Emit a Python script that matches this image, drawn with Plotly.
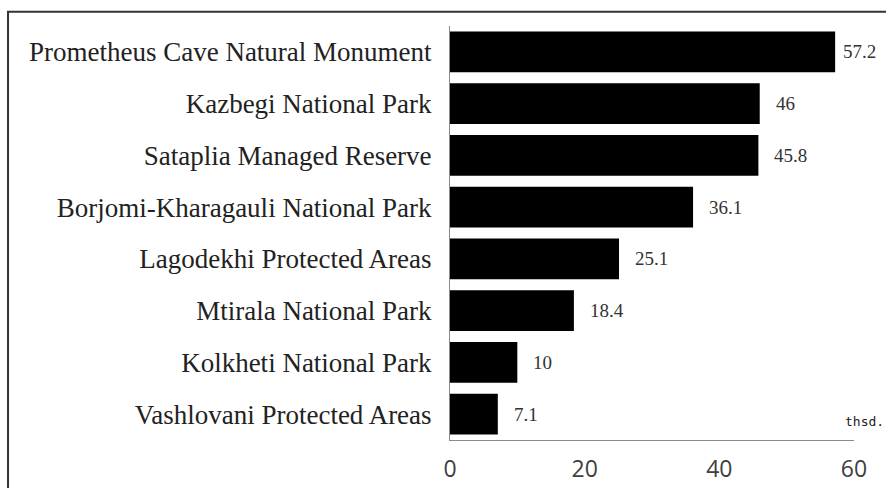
import plotly.graph_objects as go

# Visitors to protected areas, thousands
areas = [
    "Prometheus Cave Natural Monument",
    "Kazbegi National Park",
    "Sataplia Managed Reserve",
    "Borjomi-Kharagauli National Park",
    "Lagodekhi Protected Areas",
    "Mtirala National Park",
    "Kolkheti National Park",
    "Vashlovani Protected Areas",
]
visitors = [57.2, 46, 45.8, 36.1, 25.1, 18.4, 10, 7.1]
value_labels = ["57.2", "46", "45.8", "36.1", "25.1", "18.4", "10", "7.1"]
x_ticks = [0, 20, 40, 60]
unit_label = "thsd."

fig = go.Figure(
    go.Bar(
        x=visitors,
        y=areas,
        orientation="h",
        marker=dict(color="#000000", line=dict(width=0)),
        hoverinfo="x+y",
    )
)

# value labels just past the end of each bar (tighter where space runs out)
for area, v, txt in zip(areas, visitors, value_labels):
    fig.add_annotation(
        x=v, y=area, text=txt, showarrow=False,
        xanchor="left", yanchor="middle", xshift=6 if v > 55 else 14,
        font=dict(family="Liberation Serif", size=19, color="#333333"),
    )

# unit caption at the right end of the axis
fig.add_annotation(
    x=1.0, y=0.0, xref="paper", yref="paper", text=unit_label,
    showarrow=False, xanchor="left", yanchor="bottom", xshift=-11, yshift=9,
    font=dict(family="DejaVu Sans Mono", size=13, color="#222222"),
)

# outer frame (top and left edges visible)
fig.add_shape(
    type="path", xref="paper", yref="paper",
    path="M 1.2 1.0347 L -1.094 1.0347 L -1.094 -0.3",
    line=dict(color="#333333", width=2),
)

fig.update_layout(
    width=886, height=488,
    margin=dict(l=450, r=32, t=26, b=48, autoexpand=False),
    paper_bgcolor="white", plot_bgcolor="white",
    bargap=0.21,
    showlegend=False,
    xaxis=dict(
        range=[0, 60], tickvals=x_ticks, showgrid=False, zeroline=False,
        showline=True, linecolor="#8a8a8a", linewidth=1, automargin=False,
        ticks="", ticklabelstandoff=8,
        tickfont=dict(family="Open Sans", size=23, color="#404040"),
    ),
    yaxis=dict(
        autorange="reversed", showgrid=False, zeroline=False,
        showline=True, linecolor="#8a8a8a", linewidth=1, automargin=False,
        ticks="", ticklabelstandoff=12,
        tickfont=dict(family="Liberation Serif", size=27, color="#222222"),
    ),
)

fig.write_html("out.html")
